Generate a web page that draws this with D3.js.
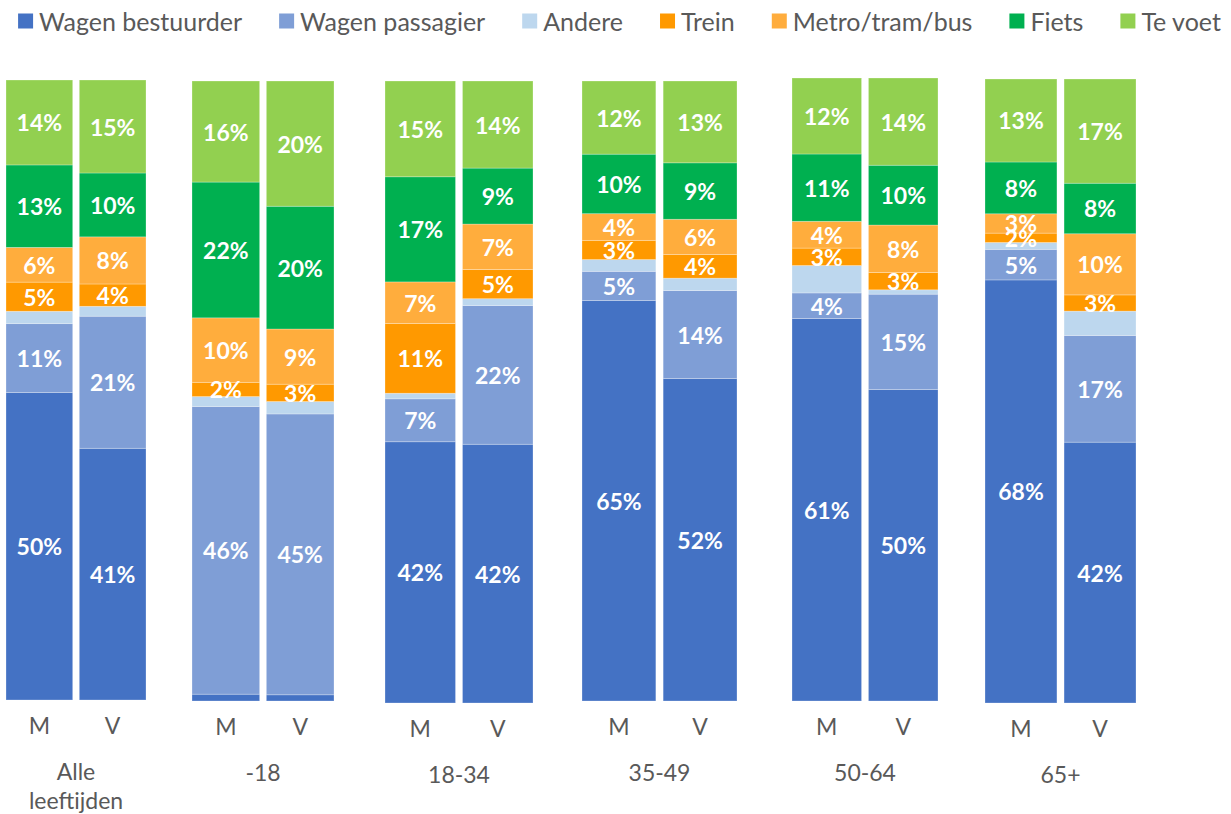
<!DOCTYPE html>
<html>
<head>
<meta charset="utf-8">
<script src="https://cdn.jsdelivr.net/npm/d3@7"></script>
<style>
  html, body { margin: 0; padding: 0; background: #fff; }
  svg { display: block; }
  text { font-family: Lato, "Open Sans", sans-serif; }
</style>
</head>
<body>
<svg id="chart" width="1231" height="814"></svg>
<script>
// Modal split (share of trips) by age group and sex
const groups = ["Alle leeftijden", "-18", "18-34", "35-49", "50-64", "65+"];
const sexes = ["M", "V"];
const modes = ["Wagen bestuurder", "Wagen passagier", "Andere", "Trein", "Metro/tram/bus", "Fiets", "Te voet"];

// One value per bar, ordered group by group, M then V
const wagenBestuurder = [49.6, 40.6, 1.1, 1.0, 42.0, 41.6, 64.6, 52.0, 61.4, 50.0, 67.8, 41.8];
const wagenPassagier  = [11.1, 21.3, 46.4, 45.3, 6.9, 22.3, 4.7, 14.2, 4.1, 15.3, 4.9, 17.1];
const andere          = [2.0, 1.6, 1.6, 2.0, 0.9, 1.1, 1.9, 2.0, 4.4, 0.7, 1.1, 3.9];
const trein           = [4.7, 3.6, 2.3, 2.8, 11.2, 4.7, 3.1, 3.8, 2.8, 2.8, 1.5, 2.6];
const metroTramBus    = [5.6, 7.6, 10.4, 8.9, 6.7, 7.3, 4.3, 5.7, 4.3, 7.6, 3.1, 9.8];
const fiets           = [13.3, 10.3, 21.9, 19.8, 16.9, 9.0, 9.6, 9.1, 10.8, 9.6, 8.3, 8.1];
const teVoet          = [13.7, 15.0, 16.3, 20.2, 15.4, 14.0, 11.8, 13.2, 12.2, 14.0, 13.3, 16.7];

const seriesValues = [wagenBestuurder, wagenPassagier, andere, trein, metroTramBus, fiets, teVoet];
const colors = ["#4472C4", "#7F9ED6", "#BDD7EE", "#FF9900", "#FFAD3D", "#00B050", "#92D050"];
const unlabeled = ["Andere"];

// Panel frames (one small chart per age group)
const panelX = [[6, 146], [192, 334], [385, 533], [582, 737], [792, 938], [985, 1136]];
const panelY = [[80, 700], [81, 701], [81, 703], [81, 701], [78, 701], [79, 703]];

const textGray = "#595959";
const svg = d3.select("#chart");

// Build rows for stacking
const rows = [];
groups.forEach((g, gi) => {
  sexes.forEach((s, si) => {
    const idx = gi * sexes.length + si;
    const row = { group: g, sex: s };
    modes.forEach((m, mi) => { row[m] = seriesValues[mi][idx]; });
    rows.push(row);
  });
});

const stacked = d3.stack().keys(modes).offset(d3.stackOffsetExpand)(rows);
const color = d3.scaleOrdinal().domain(modes).range(colors);

groups.forEach((g, gi) => {
  const x = d3.scaleBand().domain(sexes).range(panelX[gi]).paddingInner(0.09).paddingOuter(0);
  const y = d3.scaleLinear().domain([0, 1]).range([panelY[gi][1], panelY[gi][0]]);
  const panel = svg.append("g").attr("class", "panel");

  stacked.forEach(layer => {
    const segs = layer.filter(d => d.data.group === g);
    panel.selectAll(null)
      .data(segs)
      .join("rect")
      .attr("x", d => x(d.data.sex))
      .attr("width", x.bandwidth())
      .attr("y", d => y(d[1]))
      .attr("height", d => y(d[0]) - y(d[1]))
      .attr("fill", color(layer.key))
      .attr("stroke", "#ffffff")
      .attr("stroke-opacity", 0.35)
      .attr("stroke-width", 0.75);
  });

  stacked.forEach(layer => {
    if (unlabeled.includes(layer.key)) return;
    const segs = layer.filter(d => d.data.group === g && d.data[layer.key] >= 1.5);
    panel.selectAll(null)
      .data(segs)
      .join("text")
      .attr("x", d => x(d.data.sex) + x.bandwidth() / 2)
      .attr("y", d => (y(d[0]) + y(d[1])) / 2)
      .attr("text-anchor", "middle")
      .attr("dominant-baseline", "central")
      .attr("fill", "#ffffff")
      .attr("font-weight", 700)
      .attr("font-size", 23)
      .text(d => Math.round(d.data[layer.key]) + "%");
  });

  // M / V axis
  const axis = panel.append("g")
    .attr("transform", `translate(0,${panelY[gi][1]})`)
    .call(d3.axisBottom(x).tickSize(0).tickPadding(18));
  axis.select(".domain").remove();
  axis.selectAll("text")
    .attr("font-size", 23)
    .attr("font-family", "Lato, sans-serif")
    .attr("fill", textGray);

  // Group label, wrapped to the category width
  const cx = (panelX[gi][0] + panelX[gi][1]) / 2;
  const label = panel.append("text")
    .attr("x", cx)
    .attr("y", panelY[gi][1] + 71)
    .attr("text-anchor", "middle")
    .attr("dominant-baseline", "central")
    .attr("font-size", 23)
    .attr("fill", textGray);
  const words = g.split(" ");
  const maxW = (panelX[gi][1] - panelX[gi][0]) * 0.8;
  let line = [];
  let tspan = label.append("tspan").attr("x", cx).attr("dy", 0);
  words.forEach(w => {
    line.push(w);
    tspan.text(line.join(" "));
    if (tspan.node().getComputedTextLength() > maxW && line.length > 1) {
      line.pop();
      tspan.text(line.join(" "));
      line = [w];
      tspan = label.append("tspan").attr("x", cx).attr("dy", 29).text(w);
    }
  });
});

// Legend: flow layout centred across the top
const legend = svg.append("g").attr("class", "legend");
const legendY = 21, sq = 15, sqGap = 6, itemGap = 37;
const items = modes.map(m => {
  const gItem = legend.append("g");
  gItem.append("rect")
    .attr("x", 0).attr("y", legendY - sq / 2)
    .attr("width", sq).attr("height", sq)
    .attr("fill", color(m));
  const t = gItem.append("text")
    .attr("x", sq + sqGap).attr("y", legendY)
    .attr("dominant-baseline", "central")
    .attr("font-size", 25)
    .attr("fill", textGray)
    .text(m);
  return { g: gItem, w: sq + sqGap + t.node().getComputedTextLength() };
});
const total = d3.sum(items, d => d.w) + itemGap * (items.length - 1);
let lx = 619.5 - total / 2;
items.forEach(it => {
  it.g.attr("transform", `translate(${lx},0)`);
  lx += it.w + itemGap;
});
</script>
</body>
</html>
